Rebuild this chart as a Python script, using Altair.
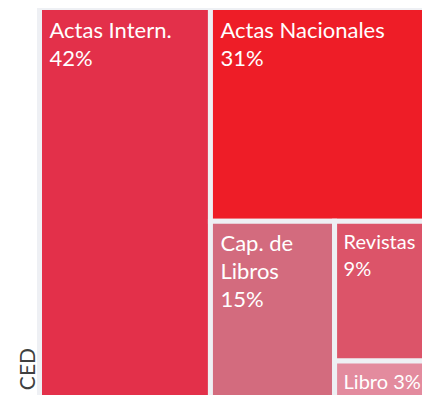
import altair as alt
import pandas as pd

# ---- data ----
categories = ["Actas Intern.", "Actas Nacionales", "Cap. de Libros", "Revistas", "Libro"]
area_share = [42.0, 31.0, 14.2, 9.6, 3.2]          # share of area (%)
cell_labels = ["Actas Intern.\n42%", "Actas Nacionales\n31%", "Cap. de\nLibros\n15%",
               "Revistas\n9%", "Libro 3%"]
cell_colors = ["#e3304a", "#ee1d27", "#d36b7e", "#dc5469", "#e38b9e"]
side_title = "CED"
narrow_cells = ["Revistas", "Libro"]   # labels set a little smaller so they stay in view

FRAME = "#eef0f4"
ASPECT = 407 / 400  # width / height of the treemap box


def treemap_binary(values, x0, y0, x1, y1):
    """d3.treemapBinary layout."""
    n = len(values)
    sums = [0.0]
    for v in values:
        sums.append(sums[-1] + v)
    out = [None] * n

    def part(i, j, value, x0, y0, x1, y1):
        if i >= j - 1:
            out[i] = (x0, y0, x1, y1)
            return
        off = sums[i]
        target = value / 2 + off
        k, hi = i + 1, j - 1
        while k < hi:
            mid = (k + hi) // 2
            if sums[mid] < target:
                k = mid + 1
            else:
                hi = mid
        if (target - sums[k - 1]) < (sums[k] - target) and i + 1 < k:
            k -= 1
        vl = sums[k] - off
        vr = value - vl
        if (x1 - x0) > (y1 - y0):
            xk = (x0 * vr + x1 * vl) / value
            part(i, k, vl, x0, y0, xk, y1)
            part(k, j, vr, xk, y0, x1, y1)
        else:
            yk = (y0 * vr + y1 * vl) / value
            part(i, k, vl, x0, y0, x1, yk)
            part(k, j, vr, x0, yk, x1, y1)

    part(0, n, sums[-1], x0, y0, x1, y1)
    return out


rects = treemap_binary(area_share, 0, 0, ASPECT, 1)
df = pd.DataFrame({
    "cat": categories,
    "label": cell_labels,
    "x0": [r[0] for r in rects],
    "y0": [r[1] for r in rects],
    "x1": [r[2] for r in rects],
    "y1": [r[3] for r in rects],
})

# svg sized so the page does not overflow the 430x407 window
W, H = 414, 387
xs = alt.Scale(domain=[0, ASPECT], range=[31.5, 438.5], nice=False, zero=False)
ys = alt.Scale(domain=[0, 1], range=[-0.5, 399.5], nice=False, zero=False)

frame = alt.Chart(pd.DataFrame({"a": [0]})).mark_rect(color=FRAME).encode(
    x=alt.value(29), x2=alt.value(W), y=alt.value(0), y2=alt.value(H)
)

cells = alt.Chart(df).mark_rect(stroke=FRAME, strokeWidth=5).encode(
    x=alt.X("x0:Q", scale=xs, axis=None),
    x2="x1:Q",
    y=alt.Y("y0:Q", scale=ys, axis=None),
    y2="y1:Q",
    color=alt.Color("cat:N", scale=alt.Scale(domain=categories, range=cell_colors), legend=None),
)

text_enc = dict(
    x=alt.X("x0:Q", scale=xs, axis=None),
    y=alt.Y("y0:Q", scale=ys, axis=None),
    text="label:N",
)

texts = alt.Chart(df).transform_filter(
    ~alt.FieldOneOfPredicate(field="cat", oneOf=narrow_cells)
).mark_text(
    align="left", baseline="alphabetic", dx=10, dy=30, fontSize=22,
    font="Lato", color="white", lineBreak="\n", lineHeight=28,
).encode(**text_enc)

texts_small = alt.Chart(df).transform_filter(
    alt.FieldOneOfPredicate(field="cat", oneOf=narrow_cells)
).mark_text(
    align="left", baseline="alphabetic", dx=9, dy=28, fontSize=20,
    font="Lato", color="white", lineBreak="\n", lineHeight=27,
).encode(**text_enc)

side = alt.Chart(pd.DataFrame({"t": [side_title]})).mark_text(
    angle=270, align="right", baseline="alphabetic", fontSize=21,
    font="Lato", color="#404040",
).encode(x=alt.value(27), y=alt.value(340), text="t:N")

chart = alt.layer(frame, cells, texts, texts_small, side).properties(
    width=W, height=H, padding=0, autosize=alt.AutoSizeParams(type="none"),
    background="white",
).configure_view(stroke=None)

chart.save("out.html", embed_options={"renderer": "svg", "actions": False})
